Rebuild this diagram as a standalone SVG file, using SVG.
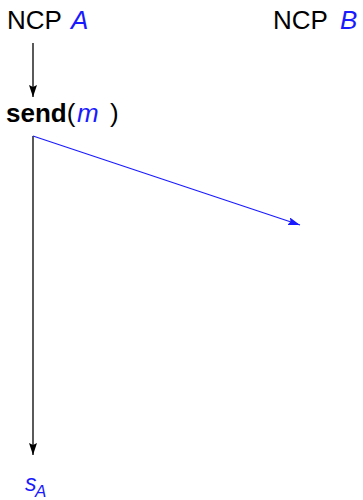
<svg xmlns="http://www.w3.org/2000/svg" width="363" height="500" viewBox="0 0 363 500">
<style>
text{font-family:"Liberation Sans",Arial,sans-serif;font-size:26px;fill:#000}
.b{fill:#1a1aff;font-style:italic}
.bold{font-weight:bold}
.k{stroke:#000;stroke-width:1.3;fill:none}
.u{stroke:#1a1aff;stroke-width:1.3;fill:none}
</style>
<defs>
<marker id="ak" viewBox="0 0 12 8" refX="12" refY="4" markerWidth="12" markerHeight="8" markerUnits="userSpaceOnUse" orient="auto">
<path d="M0,0 L12,4 L0,8 L2,4 Z" fill="#000"/>
</marker>
<marker id="au" viewBox="0 0 12 8" refX="12" refY="4" markerWidth="12" markerHeight="8" markerUnits="userSpaceOnUse" orient="auto">
<path d="M0,0 L12,4 L0,8 L2,4 Z" fill="#1a1aff"/>
</marker>
</defs>
<g id="ncpA"><text x="7" y="29">NCP</text><text class="b" x="71" y="29">A</text></g>
<g id="ncpB"><text x="273" y="29">NCP</text><text class="b" x="340" y="29">B</text></g>
<g id="send"><text x="6" y="122"><tspan class="bold">send</tspan>(</text><text class="b" x="77" y="122">m</text><text x="110" y="122">)</text></g>
<g id="sA"><text class="b" x="25" y="491" style="font-size:23px">s</text><text class="b" x="35" y="497" style="font-size:17px">A</text></g>
<g id="connectors">
<line class="k" x1="33" y1="43" x2="33" y2="97" marker-end="url(#ak)"/>
<line class="k" x1="33" y1="136" x2="33" y2="455" marker-end="url(#ak)"/>
<line class="u" x1="33" y1="136" x2="300" y2="225" marker-end="url(#au)"/>
</g>
</svg>
